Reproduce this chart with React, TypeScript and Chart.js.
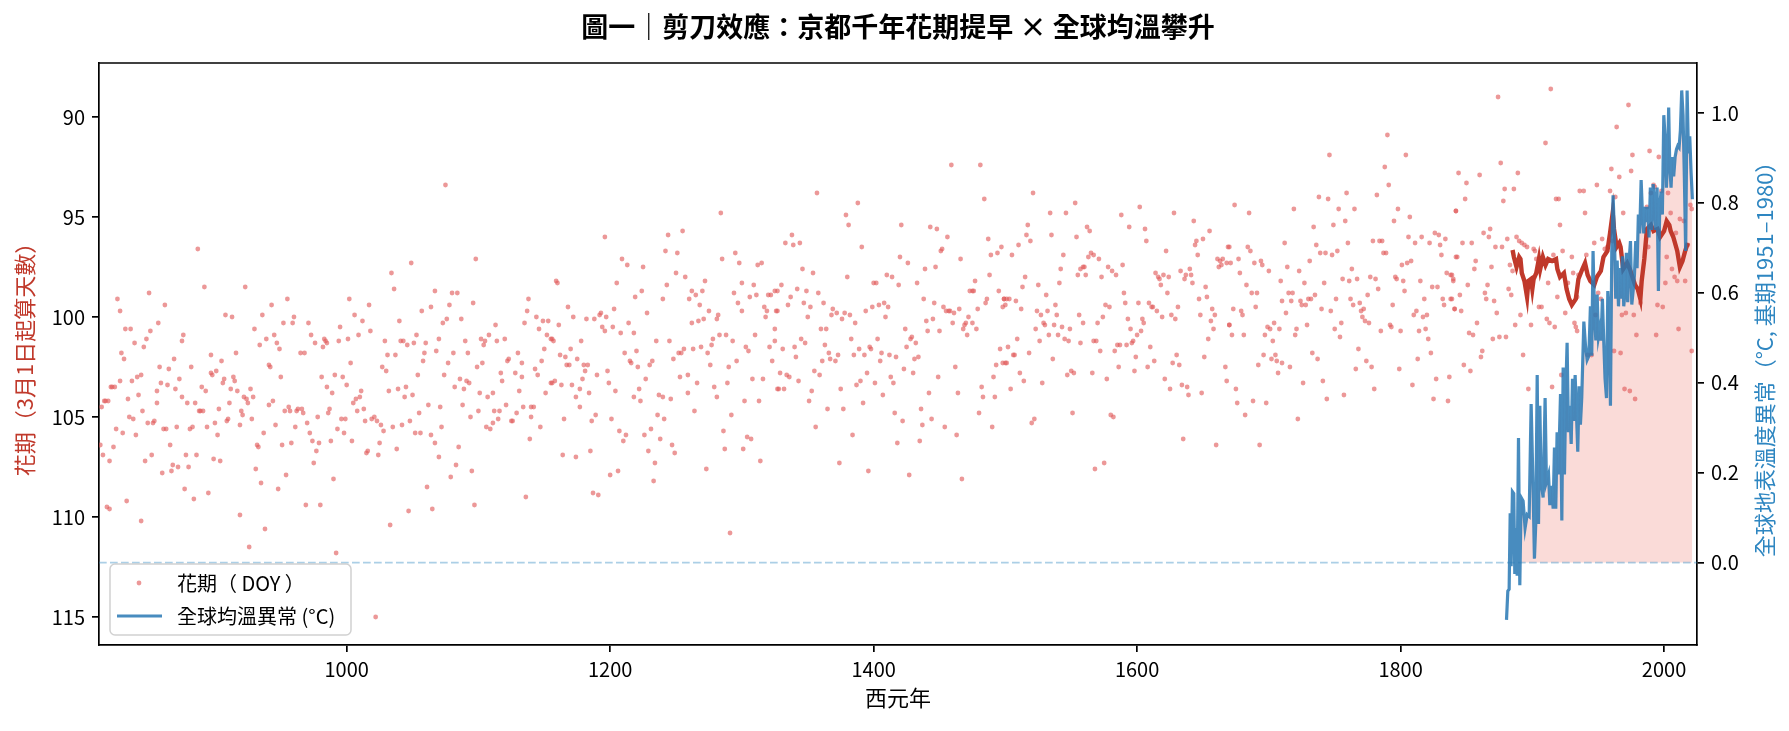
import React, { useEffect, useRef } from 'react';
import { Chart, registerables } from 'chart.js';
Chart.register(...registerables);

const FONT = '"Noto Sans CJK TC", "Noto Sans CJK JP", sans-serif';

const TITLE = '圖一｜剪刀效應：京都千年花期提早 × 全球均溫攀升';
const X_LABEL = '西元年';
const Y_LABEL = '花期（3月1日起算天數）';
const Y1_LABEL = '全球地表溫度異常（°C, 基期1951–1980）';
const LEGEND_BLOOM = '花期（ DOY ）';
const LEGEND_TEMP = '全球均溫異常 (°C)';

const xTicks = [1000, 1200, 1400, 1600, 1800, 2000];
const yTicks = [90, 95, 100, 105, 110, 115];
const y1Ticks = [0.0, 0.2, 0.4, 0.6, 0.8, 1.0];

// Bloom day-of-year, [year, DOY]
const bloom812to984 = [[887,96.6],[892,98.5],[923,98.5],[826,99.1],[850,98.8],[828,99.7],[862,99.4],[955,99.1],[943,99.4],[908,99.9],[913,100.0],[936,99.9],[960,100.0],[959,100.3],[857,100.3],[832,100.6],[836,100.6],[851,100.7],[952,100.3],[971,100.3],[930,100.6],[945,100.9],[939,101.1],[934,101.4],[947,101.3],[949,101.6],[973,100.9],[976,101.3],[983,101.1],[982,101.5],[876,100.9],[875,101.2],[848,101.1],[839,101.3],[846,101.5],[829,101.8],[831,102.1],[916,101.8],[897,101.9],[869,102.1],[965,101.8],[968,101.8],[941,102.4],[942,102.5],[858,102.5],[865,102.6],[882,102.5],[897,102.8],[898,102.9],[901,102.7],[905,102.2],[950,103.0],[981,103.0],[841,103.0],[844,102.9],[837,103.2],[828,103.2],[873,103.1],[907,103.1],[914,103.0],[915,103.2],[821,103.5],[822,103.5],[824,103.5],[859,103.3],[864,103.4],[890,103.5],[893,103.7],[906,103.3],[912,103.6],[917,103.7],[927,103.6],[870,103.6],[856,103.7],[842,103.9],[875,104.0],[834,104.1],[816,104.2],[817,104.2],[819,104.2],[856,104.3],[879,104.3],[885,104.3],[911,104.3],[922,104.0],[924,104.1],[929,104.0],[925,104.3],[944,104.2],[941,104.4],[814,104.5],[845,104.7],[888,104.7],[889,104.7],[891,104.7],[903,104.6],[920,104.7],[953,104.7],[956,104.5],[957,104.7],[962,104.7],[963,104.6],[966,104.6],[967,104.8],[835,105.0],[838,105.1],[921,104.9],[928,105.1],[978,105.0],[910,105.1],[909,105.2],[854,105.2],[853,105.3],[849,105.3],[900,105.3],[970,105.3],[919,105.4],[946,105.4],[961,105.5],[894,105.5],[881,105.6],[883,105.5],[861,105.6],[863,105.6],[871,105.5],[825,105.6],[830,105.8],[840,105.9],[902,105.9],[937,105.8],[972,105.8],[974,106.2],[979,106.3],[951,106.4],[958,106.3],[866,106.4],[813,106.4],[823,106.5],[932,106.4],[933,106.5],[977,106.7],[815,106.9],[852,106.9],[878,106.9],[886,106.9],[820,107.2],[847,107.2],[899,107.1],[904,107.2],[975,107.3],[868,107.4],[872,107.5],[880,107.5],[867,107.7],[860,107.8],[931,107.6],[954,107.9],[935,108.3],[948,108.6],[877,108.6],[884,109.1],[895,108.8],[833,109.2],[818,109.5],[820,109.6],[969,109.4],[980,109.4],[844,110.2],[919,109.9],[938,110.6],[926,111.5]];

const bloom985to1155 = [[1075,93.4],[1098,97.1],[1049,97.3],[1034,97.8],[1036,98.6],[1067,98.7],[1002,99.1],[1017,99.4],[1006,99.9],[1012,100.2],[1080,98.8],[1084,98.8],[1096,99.3],[1078,99.4],[1064,99.5],[1057,99.7],[1076,100.1],[1073,100.3],[1087,100.1],[1040,100.2],[995,100.5],[1018,100.7],[1009,100.9],[1001,101.1],[994,101.2],[984,101.2],[985,101.3],[1029,101.2],[1041,101.2],[1043,101.2],[1046,101.4],[1051,101.3],[1053,100.9],[1060,101.3],[1070,101.1],[1090,101.2],[1102,101.1],[1105,101.2],[1108,100.9],[1113,100.4],[1104,101.4],[1114,101.2],[1120,101.1],[1138,99.1],[1137,99.7],[1135,100.3],[1144,100.0],[1146,100.6],[1149,100.2],[1153,100.2],[1152,100.9],[1155,101.1],[1150,101.6],[1148,102.2],[1143,102.6],[1145,102.9],[1151,103.8],[1155,103.3],[1130,101.8],[1133,102.3],[1122,102.2],[1123,102.1],[1128,102.8],[1117,102.8],[1118,103.2],[1133,103.0],[1131,103.7],[1134,104.5],[1140,104.5],[1142,104.5],[1140,105.0],[1147,105.5],[1139,106.1],[1136,109.0],[1129,104.8],[1125,105.2],[1126,105.2],[1121,104.4],[1116,104.7],[1112,104.7],[1115,105.1],[1111,103.8],[1107,104.0],[1111,105.3],[1106,105.5],[1109,105.6],[1101,103.8],[1103,102.3],[1099,102.5],[1100,104.7],[1094,105.0],[1088,104.4],[1086,103.1],[1091,103.2],[1093,103.3],[1089,103.6],[1082,103.5],[1077,102.3],[1081,101.8],[1092,101.8],[1074,102.9],[1068,101.7],[1059,101.8],[1058,102.2],[1054,102.9],[1050,103.9],[1044,104.0],[1045,103.5],[1039,103.6],[1032,103.7],[1030,102.7],[1027,102.5],[1031,101.9],[1037,101.9],[1003,102.3],[991,102.9],[997,103.0],[1000,103.4],[985,103.5],[989,103.8],[1011,103.7],[1010,104.0],[1007,104.1],[1005,104.3],[987,104.6],[986,104.8],[1008,104.7],[1013,104.6],[1014,105.2],[1019,105.1],[1021,105.0],[1023,105.2],[1026,105.4],[1028,105.7],[1035,105.5],[1042,105.4],[1048,105.2],[1055,104.8],[1062,104.4],[1071,104.5],[1072,105.5],[1052,105.8],[1056,105.8],[1064,105.9],[1067,106.3],[1070,107.0],[1085,106.5],[1083,107.4],[1079,108.0],[1095,107.7],[1097,109.4],[1061,108.5],[1065,109.6],[1047,109.7],[1033,110.4],[1025,106.3],[1024,106.9],[1016,106.7],[1015,106.8],[1038,106.6],[1004,106.2],[998,105.8],[993,105.6],[996,105.1],[999,105.1],[988,106.2],[990,108.1],[992,111.8],[1022,115.0]];

const bloom1156to1327 = [[1284,94.8],[1196,96.0],[1244,95.9],[1255,95.7],[1242,96.7],[1251,96.8],[1209,97.1],[1213,97.4],[1225,97.5],[1285,97.1],[1295,96.8],[1298,97.3],[1312,97.4],[1315,97.3],[1250,97.8],[1257,98.0],[1243,98.4],[1272,98.2],[1300,98.3],[1309,98.4],[1325,98.7],[1294,98.8],[1311,98.9],[1320,98.9],[1322,98.9],[1306,99.0],[1159,98.2],[1160,98.3],[1205,98.3],[1219,99.0],[1224,98.7],[1240,99.1],[1262,98.7],[1265,98.9],[1270,98.7],[1260,99.1],[1268,99.4],[1297,99.3],[1300,99.7],[1317,99.5],[1319,99.7],[1326,99.7],[1318,100.0],[1275,99.7],[1271,100.1],[1267,100.2],[1262,100.3],[1281,100.1],[1282,99.9],[1168,99.5],[1172,100.0],[1182,100.1],[1188,100.1],[1192,99.9],[1193,99.8],[1197,100.0],[1203,99.6],[1228,99.8],[1194,100.5],[1196,100.7],[1202,100.5],[1208,100.8],[1214,100.3],[1218,100.8],[1161,100.4],[1156,101.1],[1157,101.2],[1178,101.2],[1170,101.6],[1162,101.9],[1166,102.0],[1175,102.1],[1235,101.2],[1245,101.2],[1211,101.8],[1220,101.7],[1215,102.2],[1216,102.3],[1221,102.5],[1230,102.4],[1232,102.2],[1248,102.1],[1252,101.8],[1254,101.8],[1256,101.6],[1263,101.6],[1269,101.5],[1274,101.8],[1277,101.4],[1278,101.1],[1283,100.9],[1288,100.9],[1293,101.2],[1303,101.5],[1305,101.7],[1310,100.9],[1321,101.5],[1325,101.2],[1325,100.6],[1323,102.2],[1296,102.2],[1290,102.5],[1276,102.4],[1167,102.4],[1169,102.4],[1180,102.4],[1183,102.4],[1181,102.7],[1190,102.9],[1198,102.7],[1179,103.1],[1158,103.2],[1156,103.3],[1163,103.4],[1171,103.4],[1199,103.3],[1177,103.6],[1204,103.7],[1184,103.8],[1174,104.0],[1227,103.1],[1222,103.6],[1218,104.0],[1223,104.2],[1237,103.9],[1240,104.0],[1246,104.1],[1253,103.0],[1259,102.9],[1266,103.3],[1259,103.8],[1264,104.7],[1279,103.5],[1281,104.0],[1289,103.3],[1308,103.1],[1316,103.1],[1302,104.2],[1313,104.2],[1327,103.6],[1177,104.5],[1165,105.1],[1186,105.2],[1189,104.9],[1201,105.1],[1236,104.9],[1241,105.1],[1292,104.9],[1207,105.7],[1212,105.9],[1210,106.2],[1226,105.9],[1231,105.6],[1238,106.1],[1247,106.4],[1249,106.8],[1229,106.7],[1234,107.3],[1233,108.2],[1286,105.7],[1287,106.6],[1304,106.0],[1307,106.1],[1301,106.6],[1314,107.2],[1273,107.6],[1164,106.9],[1174,107.0],[1185,106.7],[1200,107.9],[1206,107.7],[1187,108.8],[1191,108.9],[1291,110.8]];

const bloom1327to1499 = [[1459,92.4],[1481,92.4],[1357,93.8],[1484,94.1],[1388,94.3],[1379,94.9],[1381,95.4],[1421,95.4],[1443,95.5],[1448,95.6],[1338,95.9],[1333,96.3],[1339,96.4],[1344,96.3],[1391,96.5],[1456,96.0],[1487,96.1],[1451,96.7],[1452,96.6],[1489,96.9],[1494,96.8],[1497,96.5],[1420,97.0],[1426,97.3],[1466,97.1],[1346,97.6],[1354,97.8],[1380,98.0],[1410,97.9],[1414,98.0],[1439,97.6],[1447,97.5],[1488,97.9],[1330,98.4],[1327,98.7],[1342,98.6],[1349,98.7],[1358,98.8],[1400,98.3],[1402,98.3],[1419,98.4],[1433,98.3],[1477,98.2],[1473,98.7],[1475,98.7],[1476,98.7],[1495,98.7],[1486,99.1],[1485,99.3],[1337,99.0],[1335,99.4],[1347,99.3],[1352,99.5],[1362,99.3],[1369,99.6],[1368,99.9],[1372,99.8],[1376,100.1],[1378,99.8],[1382,99.9],[1386,100.3],[1394,99.7],[1399,99.5],[1404,99.4],[1408,99.3],[1411,99.5],[1409,100.0],[1438,99.1],[1446,99.3],[1445,100.1],[1440,100.2],[1441,100.7],[1450,100.7],[1453,99.5],[1455,99.7],[1457,99.7],[1458,99.7],[1461,99.8],[1465,99.6],[1460,100.3],[1479,99.6],[1472,100.0],[1470,100.3],[1469,100.4],[1468,100.6],[1475,100.3],[1478,100.6],[1471,100.9],[1499,99.1],[1498,99.5],[1327,99.7],[1350,100.0],[1360,100.6],[1364,100.6],[1383,101.1],[1389,101.6],[1385,101.9],[1393,101.9],[1397,101.5],[1398,101.6],[1403,101.1],[1406,101.8],[1405,102.2],[1412,101.9],[1417,102.0],[1424,100.6],[1428,101.1],[1429,101.0],[1432,101.3],[1425,101.5],[1431,102.1],[1434,102.0],[1423,102.6],[1430,102.8],[1413,103.0],[1415,103.3],[1401,103.3],[1407,103.9],[1395,102.8],[1390,103.2],[1387,103.4],[1392,104.3],[1363,101.4],[1366,101.8],[1367,102.1],[1371,102.2],[1373,101.9],[1361,102.2],[1355,102.7],[1359,102.9],[1345,101.1],[1348,101.3],[1340,101.5],[1331,101.6],[1341,102.0],[1329,102.8],[1334,102.9],[1336,103.0],[1343,103.2],[1328,103.6],[1332,103.6],[1353,103.7],[1351,104.2],[1375,103.6],[1365,104.6],[1377,104.6],[1356,105.5],[1384,105.9],[1374,107.3],[1396,107.7],[1416,104.8],[1422,105.2],[1418,106.3],[1427,107.9],[1435,106.2],[1436,104.6],[1437,105.4],[1442,103.8],[1444,105.1],[1449,103.0],[1454,105.5],[1462,102.5],[1464,103.8],[1463,105.9],[1467,108.1],[1482,103.5],[1483,104.0],[1480,104.8],[1490,105.5],[1491,103.0],[1493,102.4],[1492,104.0],[1496,101.6],[1498,102.3]];

const bloom1499to1670 = [[1521,93.8],[1553,94.3],[1602,94.5],[1534,94.8],[1546,94.8],[1588,94.9],[1628,94.8],[1517,95.4],[1516,95.9],[1519,96.2],[1535,95.9],[1562,95.5],[1564,95.7],[1554,96.0],[1594,95.5],[1606,95.6],[1607,96.2],[1643,95.2],[1655,95.7],[1645,96.2],[1650,96.1],[1644,96.4],[1510,96.4],[1505,96.9],[1544,96.9],[1563,97.0],[1565,96.8],[1567,96.9],[1571,97.1],[1622,96.7],[1646,96.9],[1669,96.5],[1661,97.1],[1663,97.2],[1665,97.1],[1668,97.3],[1662,97.5],[1664,97.4],[1589,97.4],[1542,97.6],[1557,97.6],[1559,97.5],[1560,97.5],[1578,97.5],[1581,97.7],[1584,97.9],[1573,98.0],[1555,97.9],[1561,97.9],[1515,98.0],[1513,98.5],[1541,98.3],[1525,98.4],[1614,97.8],[1616,98.0],[1617,98.1],[1620,97.9],[1624,98.0],[1618,98.4],[1633,97.7],[1637,97.9],[1640,97.6],[1641,97.9],[1636,98.1],[1642,98.3],[1623,98.8],[1652,98.5],[1647,99.1],[1653,99.0],[1499,99.1],[1500,99.4],[1501,99.1],[1503,99.1],[1508,99.2],[1512,99.6],[1531,98.9],[1538,99.4],[1524,99.7],[1527,99.9],[1532,99.7],[1539,99.9],[1529,100.3],[1530,100.4],[1537,100.4],[1543,100.5],[1549,100.6],[1556,99.9],[1559,100.3],[1523,100.6],[1533,100.9],[1540,100.9],[1545,101.1],[1548,101.2],[1526,101.2],[1509,101.1],[1502,101.5],[1557,101.3],[1569,101.2],[1570,100.3],[1574,100.0],[1576,99.4],[1579,99.5],[1590,98.8],[1591,99.3],[1593,100.1],[1601,99.3],[1609,99.3],[1611,99.5],[1612,99.5],[1615,99.7],[1619,100.0],[1626,99.9],[1629,100.1],[1631,99.5],[1604,100.1],[1605,100.3],[1595,100.6],[1597,101.2],[1596,101.3],[1600,100.9],[1603,100.7],[1585,101.4],[1587,101.4],[1592,101.4],[1583,101.7],[1572,101.7],[1567,101.2],[1657,99.6],[1659,99.9],[1648,99.9],[1656,100.2],[1658,100.6],[1654,101.1],[1670,100.4],[1610,101.5],[1599,102.0],[1613,102.2],[1630,101.9],[1627,102.3],[1632,102.4],[1651,102.0],[1667,102.5],[1668,103.2],[1598,102.7],[1608,102.5],[1586,102.5],[1577,103.1],[1566,102.8],[1550,102.7],[1552,102.8],[1547,102.9],[1536,102.1],[1518,101.8],[1506,101.9],[1507,101.9],[1500,102.3],[1501,102.3],[1511,102.8],[1514,103.2],[1504,103.6],[1528,103.3],[1621,103.1],[1625,103.6],[1634,103.4],[1638,103.5],[1639,103.9],[1649,103.8],[1551,104.8],[1520,105.3],[1522,105.1],[1580,104.9],[1582,105.0],[1635,106.1],[1660,106.4],[1568,107.6],[1575,107.3]];

const bloom1670to1842 = [[1790,90.9],[1746,91.9],[1804,91.9],[1788,92.5],[1791,93.4],[1759,93.8],[1782,93.9],[1738,94.0],[1745,94.1],[1674,94.4],[1685,94.8],[1719,94.6],[1753,94.6],[1765,94.6],[1798,94.6],[1758,95.2],[1749,95.4],[1734,95.5],[1795,95.2],[1807,95.0],[1842,94.7],[1712,96.3],[1736,96.4],[1760,96.3],[1779,96.2],[1784,96.2],[1786,96.2],[1806,96.0],[1816,96.0],[1811,96.3],[1822,96.3],[1826,95.8],[1829,95.9],[1834,96.1],[1830,96.4],[1831,96.9],[1842,97.0],[1684,96.5],[1686,96.7],[1670,96.5],[1739,96.8],[1743,96.8],[1748,96.9],[1752,96.7],[1787,96.8],[1789,96.8],[1677,97.1],[1671,97.3],[1689,97.3],[1694,97.2],[1695,97.4],[1731,97.2],[1714,97.5],[1678,97.8],[1700,97.7],[1723,97.7],[1763,97.6],[1801,97.4],[1805,97.3],[1808,97.2],[1835,97.8],[1839,97.9],[1840,98.2],[1683,98.4],[1709,98.2],[1727,98.3],[1742,98.3],[1756,98.1],[1761,98.2],[1767,98.1],[1777,98.0],[1781,98.1],[1796,98.0],[1797,98.1],[1802,98.2],[1815,98.2],[1824,98.5],[1828,98.5],[1783,98.6],[1803,98.7],[1687,98.8],[1691,98.8],[1715,98.8],[1718,98.8],[1775,98.9],[1710,99.2],[1717,99.2],[1724,99.2],[1725,99.4],[1728,99.4],[1730,99.1],[1732,99.1],[1735,98.9],[1751,99.1],[1762,99.1],[1764,99.4],[1769,99.3],[1818,99.1],[1832,99.1],[1833,99.4],[1838,99.1],[1673,99.6],[1690,99.5],[1713,99.8],[1740,99.6],[1747,99.7],[1770,99.7],[1772,99.6],[1794,99.4],[1812,99.7],[1810,99.9],[1817,100.0],[1820,99.9],[1841,99.6],[1679,99.7],[1680,99.9],[1771,100.0],[1773,100.2],[1776,100.3],[1704,100.3],[1699,100.5],[1701,100.6],[1721,100.6],[1729,100.4],[1750,100.6],[1755,100.3],[1754,101.0],[1708,100.6],[1720,100.9],[1697,100.9],[1703,101.2],[1670,100.4],[1672,100.9],[1681,100.9],[1785,100.7],[1792,100.4],[1793,100.5],[1800,100.7],[1814,100.7],[1819,100.6],[1821,101.1],[1823,101.8],[1813,102.1],[1768,101.6],[1774,102.2],[1778,102.5],[1766,102.6],[1799,102.6],[1733,101.8],[1737,102.1],[1692,102.4],[1696,101.9],[1702,102.1],[1705,101.9],[1706,102.2],[1710,102.3],[1716,102.5],[1707,102.8],[1726,103.3],[1741,103.2],[1757,103.9],[1744,104.1],[1780,103.6],[1809,103.4],[1827,103.1],[1837,103.0],[1825,104.1],[1836,104.2],[1675,103.6],[1676,104.3],[1688,104.2],[1698,104.3],[1682,104.9],[1722,105.1],[1693,106.4]];

const bloom1838to2021 = [[1914,88.6],[1874,89.0],[1973,89.4],[1964,90.5],[1910,91.3],[1976,91.9],[1876,92.3],[1989,91.7],[1996,92.0],[1844,92.8],[1860,92.9],[1889,92.8],[1960,92.6],[1975,92.7],[1966,93.0],[1850,93.3],[1949,93.4],[1879,93.6],[1886,93.6],[1992,93.4],[1993,93.5],[1998,93.7],[2003,93.8],[1849,94.1],[1878,94.2],[1918,94.1],[1920,94.1],[1936,93.7],[1939,93.7],[1959,93.7],[1963,94.0],[1842,94.7],[1940,94.8],[1969,94.8],[1921,95.4],[1987,94.5],[1990,93.8],[2005,94.8],[2020,94.4],[2021,94.6],[2015,95.2],[1863,95.8],[1868,95.6],[1867,96.0],[1847,96.3],[1854,96.3],[1872,96.5],[1877,96.5],[1881,96.1],[1888,96.0],[1890,96.2],[1892,96.3],[1894,96.4],[1896,96.5],[1923,96.7],[1930,97.0],[1947,96.3],[1953,96.1],[1955,96.6],[1957,96.5],[1961,96.2],[1988,96.5],[1996,95.7],[2009,95.8],[2012,95.1],[2018,96.4],[1843,97.0],[1857,97.2],[1856,97.6],[1869,97.5],[1883,97.4],[1885,97.7],[1901,96.6],[1902,96.7],[1903,97.1],[1916,96.9],[1941,96.9],[1927,98.3],[1931,97.8],[1935,97.9],[1934,99.0],[1912,98.3],[1919,99.0],[2002,97.0],[2006,97.6],[2008,98.0],[2010,98.2],[2016,98.2],[1838,97.9],[1840,98.1],[1851,98.4],[1866,98.4],[1839,99.1],[1845,98.9],[1864,98.8],[1865,99.1],[1841,99.6],[1846,99.7],[1871,99.2],[1882,98.6],[1884,98.9],[1905,99.5],[1907,99.5],[1950,98.8],[1952,99.1],[1948,99.9],[1942,101.9],[1945,101.9],[1925,99.8],[1932,100.3],[1933,100.5],[1934,100.7],[1911,100.1],[1913,100.3],[1917,100.5],[1891,99.9],[1899,100.4],[1887,100.4],[1873,99.8],[1858,100.3],[1852,100.8],[1855,100.9],[1870,101.1],[1875,101.0],[1880,101.0],[1862,101.7],[1861,102.0],[1848,102.4],[1853,102.7],[1893,101.9],[1897,103.6],[1915,103.5],[1922,102.9],[1962,101.7],[1967,101.8],[1968,99.9],[1971,99.8],[1977,99.9],[1970,103.6],[1974,103.7],[1978,104.1],[1979,100.9],[1982,99.3],[1995,99.4],[1999,99.5],[1994,100.9],[2011,100.6],[2001,98.3],[2021,101.7]];

// Smoothed bloom DOY (rolling mean), [year, DOY]
const bloomSmoothed = [[1885,96.65],[1886,97.0],[1888,97.5],[1890,97.0],[1891,97.1],[1892,97.8],[1894,98.2],[1896,99.0],[1897,98.2],[1899,98.1],[1900,98.6],[1901,98.1],[1903,97.8],[1905,97.1],[1906,97.6],[1908,97.0],[1910,97.4],[1912,97.1],[1915,97.2],[1918,97.1],[1919,97.6],[1921,98.0],[1924,97.8],[1926,98.6],[1928,99.1],[1930,99.4],[1933,99.1],[1935,98.1],[1938,97.6],[1940,97.3],[1942,97.9],[1944,98.2],[1947,98.4],[1949,98.0],[1952,97.7],[1954,97.0],[1957,96.7],[1959,95.8],[1961,94.8],[1962,95.6],[1964,96.5],[1966,96.3],[1967,96.5],[1969,97.6],[1971,97.4],[1972,97.3],[1974,97.6],[1976,98.0],[1978,98.4],[1980,98.6],[1982,99.1],[1983,98.2],[1985,97.1],[1987,95.6],[1990,95.4],[1992,95.7],[1995,95.6],[1997,96.0],[2000,95.7],[2002,95.2],[2004,95.4],[2005,95.7],[2007,96.0],[2010,96.7],[2012,97.5],[2014,97.2],[2016,96.7],[2018,96.3]];

// Global temperature anomaly (°C)
const tempYears = [
  1880.4,1881.4,1882.4,1883.2,1883.9,1884.9,1885.9,1886.7,1887.7,1888.5,
  1889.5,1890.5,1891.5,1893.0,1894.5,1896.1,1897.6,1899.1,1900.6,1901.6,
  1902.6,1903.7,1904.7,1905.7,1906.7,1908.2,1909.7,1910.7,1912.3,1913.3,
  1914.8,1915.8,1916.8,1917.8,1918.8,1919.8,1921.4,1922.4,1923.4,1924.4,
  1925.4,1926.4,1927.4,1928.4,1929.5,1930.5,1931.5,1932.5,1933.5,1934.5,
  1935.5,1936.5,1937.5,1939.1,1940.3,1941.6,1942.9,1944.1,1945.1,1946.1,
  1947.2,1948.2,1949.2,1950.2,1951.2,1952.2,1953.2,1954.2,1955.2,1956.3,
  1957.3,1958.3,1959.3,1960.3,1961.3,1962.3,1963.3,1964.4,1965.4,1966.4,
  1967.4,1968.4,1969.4,1970.4,1971.4,1972.4,1973.5,1974.5,1975.5,1976.5,
  1977.5,1978.5,1979.5,1980.5,1981.5,1982.6,1983.6,1984.6,1985.6,1986.6,
  1987.6,1988.6,1989.6,1990.7,1991.7,1992.7,1993.7,1994.7,1995.7,1996.7,
  1997.7,1998.7,1999.8,2000.8,2001.8,2002.8,2003.5,2004.3,2005.3,2006.3,
  2007.3,2008.4,2009.4,2010.4,2011.4,2012.4,2013.4,2014.4,2015.4,2016.4,
  2017.5,2018.5,2019.5,2020.5,2021.5
];
const tempAnomaly = [
  -0.127,-0.063,-0.059,0.110,-0.008,0.158,0.154,-0.025,0.077,-0.029,
  0.277,-0.050,0.145,0.137,0.077,0.107,0.103,0.353,0.162,0.009,
  0.086,0.417,0.086,0.349,0.179,0.145,0.366,0.179,0.196,0.128,
  0.171,0.120,0.256,0.120,0.290,0.196,0.375,0.094,0.434,0.196,
  0.383,0.489,0.290,0.349,0.264,0.409,0.315,0.417,0.332,0.247,
  0.392,0.307,0.366,0.536,0.485,0.451,0.460,0.570,0.460,0.693,
  0.553,0.494,0.596,0.502,0.519,0.494,0.587,0.494,0.409,0.366,
  0.604,0.553,0.349,0.689,0.817,0.732,0.587,0.672,0.570,0.655,
  0.587,0.681,0.570,0.604,0.689,0.579,0.672,0.715,0.574,0.604,
  0.638,0.715,0.655,0.774,0.732,0.851,0.774,0.732,0.791,0.757,
  0.791,0.723,0.834,0.740,0.842,0.800,0.740,0.834,0.604,0.791,
  0.825,0.774,0.995,0.944,0.834,0.910,1.012,0.885,0.834,0.902,
  0.859,0.902,0.919,0.927,0.923,0.961,1.050,0.995,0.859,0.693,
  1.050,0.910,0.948,0.868,0.808
];
const fillStartYear = 1891.5;

const X_MIN = 812, X_MAX = 2025;
const Y_MIN = 87.3, Y_MAX = 116.4;
const Y1_MIN = -0.183, Y1_MAX = 1.111;

const RED = '#c0392b';
const BLUE_LINE = 'rgba(40,120,180,0.85)';
const BLUE_TEXT = '#2e86c1';
const DOT = 'rgba(225,88,88,0.62)';
const FILL = 'rgba(231,76,60,0.2)';
const ZERO = 'rgba(46,134,193,0.4)';

const W = 1789, H = 731;
const AREA = { left: 99, right: 1697, top: 63, bottom: 645 };

const decor = {
  id: 'decor',
  afterDraw(chart: any) {
    const { ctx, chartArea: a } = chart;
    ctx.save();
    ctx.strokeStyle = '#000';
    ctx.lineWidth = 1.7;
    ctx.beginPath();
    ctx.moveTo(a.left, a.top);
    ctx.lineTo(a.right, a.top);
    ctx.stroke();

    const cx = (a.left + a.right) / 2;
    const cy = (a.top + a.bottom) / 2;
    ctx.fillStyle = '#000';
    ctx.textAlign = 'center';
    ctx.textBaseline = 'middle';
    ctx.font = `bold 27px ${FONT}`;
    ctx.fillText(TITLE, cx, 27);

    ctx.font = `22px ${FONT}`;
    ctx.fillText(X_LABEL, cx, 698);

    ctx.save();
    ctx.translate(25, cy);
    ctx.rotate(-Math.PI / 2);
    ctx.fillStyle = RED;
    ctx.fillText(Y_LABEL, 0, 0);
    ctx.restore();

    ctx.save();
    ctx.translate(1765, cy);
    ctx.rotate(-Math.PI / 2);
    ctx.fillStyle = BLUE_TEXT;
    ctx.fillText(Y1_LABEL, 0, 0);
    ctx.restore();

    // legend
    const lx = 110, ly = 564, lw = 241, lh = 71, r = 5;
    ctx.beginPath();
    ctx.moveTo(lx + r, ly);
    ctx.arcTo(lx + lw, ly, lx + lw, ly + lh, r);
    ctx.arcTo(lx + lw, ly + lh, lx, ly + lh, r);
    ctx.arcTo(lx, ly + lh, lx, ly, r);
    ctx.arcTo(lx, ly, lx + lw, ly, r);
    ctx.closePath();
    ctx.fillStyle = 'rgba(255,255,255,0.8)';
    ctx.fill();
    ctx.strokeStyle = 'rgba(204,204,204,0.9)';
    ctx.lineWidth = 1.5;
    ctx.stroke();

    ctx.fillStyle = DOT;
    ctx.beginPath();
    ctx.arc(139, 583, 2.4, 0, Math.PI * 2);
    ctx.fill();
    ctx.strokeStyle = BLUE_LINE;
    ctx.lineWidth = 3.2;
    ctx.beginPath();
    ctx.moveTo(117, 616);
    ctx.lineTo(162, 616);
    ctx.stroke();

    ctx.fillStyle = '#000';
    ctx.textAlign = 'left';
    ctx.font = `20px ${FONT}`;
    ctx.fillText(LEGEND_BLOOM, 177, 583);
    ctx.fillText(LEGEND_TEMP, 177, 616);
    ctx.restore();
  },
};

const toPts = (arr: number[][]) => arr.map(([x, y]) => ({ x, y }));

function fixFit(size: { width?: number; height?: number }) {
  return (s: any) => {
    if (size.width !== undefined) s.width = size.width;
    if (size.height !== undefined) s.height = size.height;
    s.paddingTop = 0;
    s.paddingBottom = 0;
    s.paddingLeft = 0;
    s.paddingRight = 0;
  };
}

const axisCommon = {
  grid: { drawOnChartArea: false, drawTicks: true, tickLength: 7, lineWidth: 1.7, color: '#000' },
  border: { display: true, color: '#000', width: 1.7 },
};

export default function App() {
  const ref = useRef<HTMLCanvasElement>(null);
  useEffect(() => {
    Chart.defaults.font.family = FONT;
    Chart.defaults.color = '#000';
    const bloomAll = [
      ...bloom812to984, ...bloom985to1155, ...bloom1156to1327, ...bloom1327to1499,
      ...bloom1499to1670, ...bloom1670to1842, ...bloom1838to2021,
    ];
    const tempPts = tempYears.map((x, i) => ({ x, y: tempAnomaly[i] }));
    const fillPts = tempPts.filter((p) => p.x >= fillStartYear);
    const chart = new Chart(ref.current as HTMLCanvasElement, {
      type: 'scatter',
      data: {
        datasets: [
          {
            label: 'temp', data: tempPts, yAxisID: 'y1', showLine: true,
            borderColor: BLUE_LINE, borderWidth: 3.2, pointRadius: 0, fill: false, order: 0,
          } as any,
          {
            label: 'smooth', data: toPts(bloomSmoothed), yAxisID: 'y', showLine: true,
            borderColor: RED, borderWidth: 4.4, pointRadius: 0, fill: false, order: 1,
          },
          {
            label: 'bloom', data: toPts(bloomAll), yAxisID: 'y', showLine: false,
            pointRadius: 2.4, pointBackgroundColor: DOT, pointBorderWidth: 0, order: 2,
          },
          {
            label: 'zero', data: [{ x: X_MIN, y: 0 }, { x: X_MAX, y: 0 }], yAxisID: 'y1', showLine: true,
            borderColor: ZERO, borderWidth: 1.7, borderDash: [7.7, 3.3], pointRadius: 0, fill: false, order: 3,
          },
          {
            label: 'fill', data: fillPts, yAxisID: 'y1', showLine: true,
            borderColor: 'rgba(0,0,0,0)', borderWidth: 0.01, pointRadius: 0,
            fill: { target: { value: 0 }, above: FILL, below: 'rgba(0,0,0,0)' }, order: 4,
          } as any,
        ],
      },
      options: {
        animation: false,
        responsive: false,
        devicePixelRatio: 1,
        layout: { padding: { top: AREA.top, left: 0, right: 0, bottom: 0 } },
        plugins: { legend: { display: false }, tooltip: { enabled: false }, title: { display: false } },
        scales: {
          x: {
            type: 'linear', position: 'bottom', min: X_MIN, max: X_MAX,
            afterFit: fixFit({ height: H - AREA.bottom }),
            afterBuildTicks: (s: any) => { s.ticks = xTicks.map((v) => ({ value: v })); },
            ticks: { font: { size: 20 }, color: '#000', padding: 5, callback: (v: any) => String(v) },
            ...axisCommon,
          },
          y: {
            type: 'linear', position: 'left', reverse: true, min: Y_MIN, max: Y_MAX,
            afterFit: fixFit({ width: AREA.left }),
            afterBuildTicks: (s: any) => { s.ticks = yTicks.map((v) => ({ value: v })); },
            ticks: { font: { size: 20 }, color: '#000', padding: 7, callback: (v: any) => String(v) },
            ...axisCommon,
          },
          y1: {
            type: 'linear', position: 'right', min: Y1_MIN, max: Y1_MAX,
            afterFit: fixFit({ width: W - AREA.right }),
            afterBuildTicks: (s: any) => { s.ticks = y1Ticks.map((v) => ({ value: v })); },
            ticks: { font: { size: 20 }, color: '#000', padding: 7, callback: (v: any) => Number(v).toFixed(1) },
            ...axisCommon,
          },
        },
      } as any,
      plugins: [decor],
    });
    return () => chart.destroy();
  }, []);
  return (
    <div style={{ position: 'absolute', left: 0, top: 0, width: W, height: H, background: '#fff' }}>
      <canvas ref={ref} width={W} height={H} style={{ display: 'block', width: W, height: H }} />
    </div>
  );
}
